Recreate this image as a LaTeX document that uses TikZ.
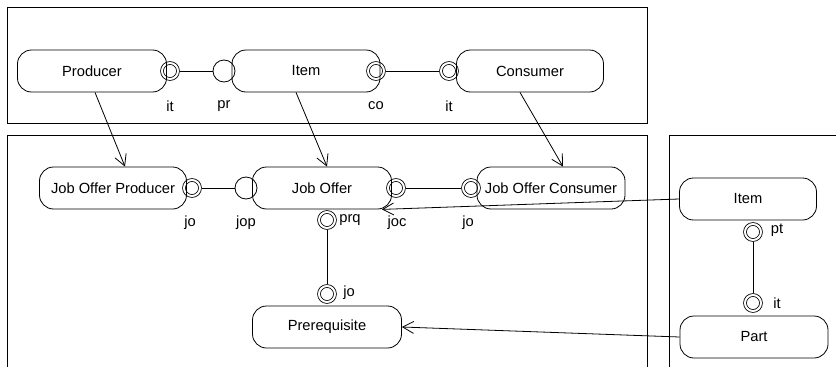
\documentclass[tikz,border=0pt]{standalone}
\usepackage{fontspec}
\setmainfont{Liberation Sans}
\usetikzlibrary{arrows.meta}

\begin{document}
\begin{tikzpicture}[x=1pt,y=-1pt,line width=0.8pt,font=\fontsize{14.7}{17}\selectfont]
    \tikzset{
        comp/.style={draw,rounded corners=14pt,minimum height=42pt,inner sep=0pt},
        port/.style={draw,circle,double,double distance=2pt,minimum size=16pt,inner sep=0pt,outer sep=2pt},
        socket/.style={draw,circle,minimum size=22pt,inner sep=0pt,outer sep=0pt},
        uses/.style={-{Straight Barb[length=11pt,width=12pt]}}
    };
    \useasboundingbox (0,0) rectangle (836,367);
    % frames
    \draw (7,7) rectangle (647,123);
    \draw (7,370) -- (7,135) -- (647,135) -- (647,370);
    \draw (669,370) -- (669,135) -- (840,135);
    % ports
    \node[port] (producerIt) at (170,71) {};
    \node[socket] (itemPr) at (224,71) {};
    \node[port] (itemCo) at (376,71) {};
    \node[port] (consumerIt) at (449,71) {};
    \node[port] (jopJo) at (192,188) {};
    \node[socket] (jobOfferJop) at (246,188) {};
    \node[port] (jobOfferJoc) at (396,188) {};
    \node[port] (jocJo) at (471,188) {};
    \node[port] (jobOfferPrq) at (327,220) {};
    \node[port] (prerequisiteJo) at (327,294) {};
    \node[port] (itemPt) at (753,232) {};
    \node[port] (partIt) at (753,303) {};
    % components
    \node[comp,minimum width=149pt] (producer) at (92,71) {Producer};
    \node[comp,minimum width=148pt] (item) at (306,71) {Item};
    \node[comp,minimum width=147pt] (consumer) at (530,71) {Consumer};
    \node[comp,minimum width=147pt] (jobOfferProducer) at (113,188) {Job Offer Producer};
    \node[comp,minimum width=139pt] (jobOffer) at (322,188) {Job Offer};
    \node[comp,minimum width=148pt] (jobOfferConsumer) at (551,188) {Job Offer Consumer};
    \node[comp,minimum width=149pt] (prerequisite) at (327,327) {Prerequisite};
    \node[comp,minimum width=137pt] (item2) at (748,199) {Item};
    \node[comp,minimum width=148pt] (part) at (754,337) {Part};
    % port labels
    \foreach \x/\y/\t [count=\i] in {170/106/it, 224/106/pr, 376/106/co, 449/106/it,
        190/223/jo, 246/223/jop, 397/223/joc, 468/223/jo, 350/220/prq, 349/293/jo,
        777/230/pt, 777/303/it}
        \node (lbl\i) at (\x,\y) {\t};
    % bindings
    \draw (producerIt) -- (itemPr);
    \draw (itemCo) -- (consumerIt);
    \draw (jopJo) -- (jobOfferJop);
    \draw (jobOfferJoc) -- (jocJo);
    \draw (jobOfferPrq) -- (prerequisiteJo);
    \draw (itemPt) -- (partIt);
    % refinements
    \draw[uses] ([xshift=3pt]producer.south) -- ([xshift=12pt]jobOfferProducer.north);
    \draw[uses] ([xshift=-10pt]item.south) -- ([xshift=5pt]jobOffer.north);
    \draw[uses] ([xshift=-10pt]consumer.south) -- ([xshift=12pt]jobOfferConsumer.north);
    \draw[uses] (item2.west) -- ([xshift=-10pt]jobOffer.south east);
    \draw[uses] (part.west) -- (prerequisite.east);
\end{tikzpicture}
\end{document}
